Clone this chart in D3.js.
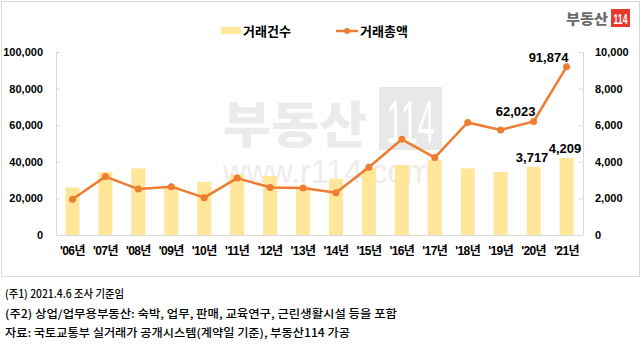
<!DOCTYPE html>
<html><head><meta charset="utf-8">
<script src="https://cdn.jsdelivr.net/npm/d3@7/dist/d3.min.js"></script>
<style>
html,body{margin:0;padding:0;background:#fff;}
svg{display:block;}
</style></head>
<body>
<svg id="c" width="643" height="346"></svg>
<script>
const categories = ["'06년","'07년","'08년","'09년","'10년","'11년","'12년","'13년","'14년","'15년","'16년","'17년","'18년","'19년","'20년","'21년"];
const countValues = [2600,3440,3640,2680,2900,3300,3220,2650,3080,3640,3830,4100,3640,3440,3717,4209];
const amountValues = [19500,31900,25100,26400,20400,31100,26000,25700,23100,37000,52300,42300,61500,57400,62023,91874];
const leftTicks = [0,20000,40000,60000,80000,100000];
const rightTicks = [0,2000,4000,6000,8000,10000];
const labelledIdx = [14,15];
const seriesNames = ["거래건수","거래총액"];
const notes = ["(주1) 2021.4.6 조사 기준임","(주2) 상업/업무용부동산: 숙박, 업무, 판매, 교육연구, 근린생활시설 등을 포함","자료: 국토교통부 실거래가 공개시스템(계약일 기준), 부동산114 가공"];

const svg = d3.select("#c");
const numFont = "'Liberation Sans', Arial, 'Noto Sans CJK KR', sans-serif";
const krFont = "'Noto Sans CJK KR', 'Liberation Sans', sans-serif";
const barColor = "#FFE699", lineColor = "#ED7D31", axisColor = "#d9d9d9";

// outer frame
svg.append("rect").attr("x",1.5).attr("y",1.5).attr("width",638).attr("height",275)
  .attr("fill","none").attr("stroke",axisColor);

const L = 56, R = 583, T = 52, B = 235;
const x = d3.scaleBand().domain(categories).range([L,R]).paddingInner(0.575).paddingOuter(0.2875);
const yL = d3.scaleLinear().domain([0,100000]).range([B,T]);
const yR = d3.scaleLinear().domain([0,10000]).range([B,T]);
const cx = d => x(d) + x.bandwidth()/2;

// watermark
const wm = svg.append("g");
wm.append("text").attr("x",223).attr("y",143).attr("textLength",144).attr("lengthAdjust","spacingAndGlyphs")
  .style("font-family",krFont).style("font-weight","900").style("font-size","50px").attr("fill","#ebebeb").text("부동산");
wm.append("rect").attr("x",379).attr("y",87).attr("width",63).attr("height",63).attr("fill","#e8e8e8");
wm.append("text").attr("x",410.5).attr("y",143).attr("text-anchor","middle").attr("textLength",48).attr("lengthAdjust","spacingAndGlyphs")
  .style("font-family",numFont).style("font-weight","normal").style("font-size","62px").attr("fill","#fff").text("114");
wm.append("text").attr("x",223).attr("y",183).attr("textLength",209).attr("lengthAdjust","spacingAndGlyphs")
  .style("font-family",numFont).style("font-size","34px").attr("fill","#ededed").text("www.r114.com");

// axes
const axL = svg.append("g").attr("transform",`translate(${L},0)`)
  .call(d3.axisRight(yL).tickValues(leftTicks).tickSize(4).tickFormat(""));
const axR = svg.append("g").attr("transform",`translate(${R},0)`)
  .call(d3.axisLeft(yR).tickValues(rightTicks).tickSize(4).tickFormat(""));
[axL,axR].forEach(a=>{a.selectAll("line").attr("stroke",axisColor); a.select(".domain").remove();});
svg.append("line").attr("x1",L+0.5).attr("x2",L+0.5).attr("y1",yL(100000)).attr("y2",B).attr("stroke",axisColor);
svg.append("line").attr("x1",R+0.5).attr("x2",R+0.5).attr("y1",yR(10000)).attr("y2",B).attr("stroke",axisColor);

svg.append("g").selectAll("text").data(leftTicks).join("text")
  .attr("x",43).attr("y",d=>yL(d)+4).attr("text-anchor","end")
  .style("font-family",numFont).style("font-weight","bold").style("font-size","11px").attr("fill","#000")
  .text(d=>d3.format(",")(d));
svg.append("g").selectAll("text").data(rightTicks).join("text")
  .attr("x",595).attr("y",d=>yR(d)+4).attr("text-anchor","start")
  .style("font-family",numFont).style("font-weight","bold").style("font-size","11px").attr("fill","#000")
  .text(d=>d3.format(",")(d));

// bars
svg.append("g").selectAll("rect").data(categories).join("rect")
  .attr("x",d=>x(d)).attr("width",x.bandwidth())
  .attr("y",(d,i)=>yR(countValues[i])).attr("height",(d,i)=>B-yR(countValues[i]))
  .attr("fill",barColor);

// bottom axis
const axB = svg.append("g").attr("transform",`translate(0,${B})`)
  .call(d3.axisBottom(x).tickSize(0).tickPadding(12));
axB.select(".domain").attr("stroke",axisColor).attr("d",`M${L},0.5H${R}`);
axB.selectAll("text").style("font-family",numFont).style("font-weight","bold").style("font-size","12px")
  .style("letter-spacing","-0.6px").attr("fill","#000").attr("dy","0.7em");

// line
const line = d3.line().x((d,i)=>cx(categories[i])).y(d=>yL(d));
svg.append("path").datum(amountValues).attr("d",line).attr("fill","none")
  .attr("stroke",lineColor).attr("stroke-width",2.5).attr("stroke-linejoin","round");
svg.append("g").selectAll("circle").data(amountValues).join("circle")
  .attr("cx",(d,i)=>cx(categories[i])).attr("cy",d=>yL(d)).attr("r",3.5).attr("fill",lineColor);

// data labels
const lab = svg.append("g").style("font-family",numFont).style("font-weight","bold").style("font-size","13px").attr("fill","#000");
labelledIdx.forEach(i=>{
  lab.append("text").attr("x",cx(categories[i])-1.5).attr("y",yR(countValues[i])-5).attr("text-anchor","middle")
    .text(d3.format(",")(countValues[i]));
  lab.append("text").attr("x",cx(categories[i])-18).attr("y",yL(amountValues[i])-5).attr("text-anchor","middle")
    .text(d3.format(",")(amountValues[i]));
});

// legend
const lg = svg.append("g").style("font-family",krFont).style("font-weight","bold").style("font-size","13px");
lg.append("rect").attr("x",221).attr("y",27).attr("width",20).attr("height",7).attr("fill",barColor);
lg.append("text").attr("x",243).attr("y",35.5).text(seriesNames[0]);
lg.append("line").attr("x1",336).attr("x2",358).attr("y1",31).attr("y2",31).attr("stroke",lineColor).attr("stroke-width",2.5);
lg.append("circle").attr("cx",347).attr("cy",31).attr("r",3).attr("fill",lineColor);
lg.append("text").attr("x",360).attr("y",35.5).text(seriesNames[1]);

// logo
svg.append("text").attr("x",608).attr("y",24).attr("text-anchor","end").attr("textLength",42).attr("lengthAdjust","spacingAndGlyphs")
  .style("font-family",krFont).style("font-weight","900").style("font-size","14px").attr("fill","#6b6b6b").text("부동산");
svg.append("rect").attr("x",611).attr("y",9).attr("width",19).attr("height",18).attr("fill","#e8392c");
svg.append("text").attr("x",620.5).attr("y",23.5).attr("text-anchor","middle").attr("textLength",14).attr("lengthAdjust","spacingAndGlyphs")
  .style("font-family",numFont).style("font-weight","bold").style("font-size","15px").attr("fill","#fff").text("114");

// notes
const noteW = [119,392,345];
svg.append("g").selectAll("text").data(notes).join("text")
  .attr("x",5).attr("y",(d,i)=>298+i*19.5).attr("textLength",(d,i)=>noteW[i]).attr("lengthAdjust","spacingAndGlyphs")
  .style("font-family",krFont).style("font-size","11px").style("font-weight","500").attr("fill","#000").text(d=>d);
</script>
</body></html>
